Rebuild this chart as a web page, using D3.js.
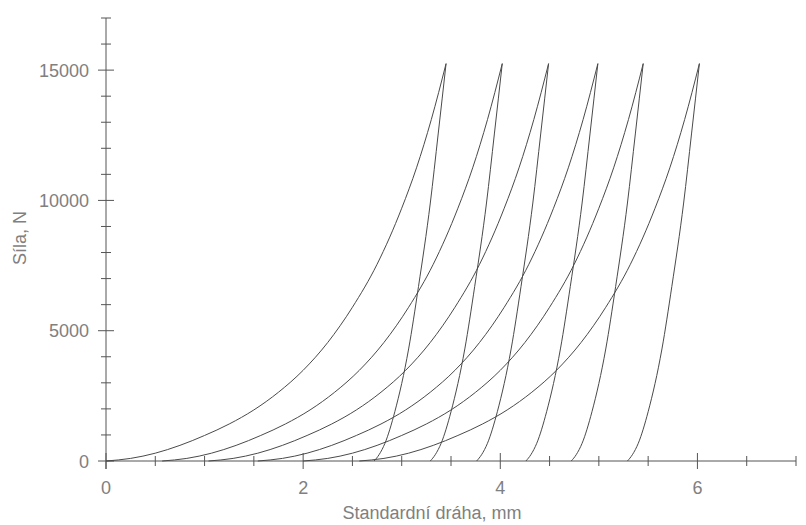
<!DOCTYPE html>
<html>
<head>
<meta charset="utf-8">
<script src="https://cdn.jsdelivr.net/npm/d3@7"></script>
<style>
  body { margin: 0; background: #fff; }
  svg { display: block; font-family: "Liberation Sans", Arial, sans-serif; }
</style>
</head>
<body>
<script>
// loading branches [displacement mm, force N]
const load1 = [[0,0],[0.25,100],[0.5,300],[0.75,600],[1.0,980],[1.25,1420],[1.5,1960],[1.75,2640],[2.0,3480],[2.25,4550],[2.5,5900],[2.75,7550],[3.0,9700],[3.15,11250],[3.3,13100],[3.45,15250]];
const load2 = [[0.57,0],[0.82,100],[1.07,300],[1.32,600],[1.57,980],[1.82,1420],[2.07,1960],[2.32,2640],[2.57,3480],[2.82,4550],[3.07,5900],[3.32,7550],[3.57,9700],[3.72,11250],[3.87,13100],[4.02,15250]];
const load3 = [[1.04,0],[1.29,100],[1.54,300],[1.79,600],[2.04,980],[2.29,1420],[2.54,1960],[2.79,2640],[3.04,3480],[3.29,4550],[3.54,5900],[3.79,7550],[4.04,9700],[4.19,11250],[4.34,13100],[4.49,15250]];
const load4 = [[1.54,0],[1.79,100],[2.04,300],[2.29,600],[2.54,980],[2.79,1420],[3.04,1960],[3.29,2640],[3.54,3480],[3.79,4550],[4.04,5900],[4.29,7550],[4.54,9700],[4.69,11250],[4.84,13100],[4.99,15250]];
const load5 = [[2.00,0],[2.25,100],[2.50,300],[2.75,600],[3.00,980],[3.25,1420],[3.50,1960],[3.75,2640],[4.00,3480],[4.25,4550],[4.50,5900],[4.75,7550],[5.00,9700],[5.15,11250],[5.30,13100],[5.45,15250]];
const load6 = [[2.57,0],[2.82,100],[3.07,300],[3.32,600],[3.57,980],[3.82,1420],[4.07,1960],[4.32,2640],[4.57,3480],[4.82,4550],[5.07,5900],[5.32,7550],[5.57,9700],[5.72,11250],[5.87,13100],[6.02,15250]];

// unloading branches, from the peak down
const unload1 = [[3.45,15250],[3.37,12550],[3.29,9900],[3.17,6690],[3.07,4300],[2.93,1890],[2.83,680],[2.77,240],[2.72,0]];
const unload2 = [[4.02,15250],[3.94,12550],[3.86,9900],[3.74,6690],[3.64,4300],[3.50,1890],[3.40,680],[3.34,240],[3.29,0]];
const unload3 = [[4.49,15250],[4.41,12550],[4.33,9900],[4.21,6690],[4.11,4300],[3.97,1890],[3.87,680],[3.81,240],[3.76,0]];
const unload4 = [[4.99,15250],[4.91,12550],[4.83,9900],[4.71,6690],[4.61,4300],[4.47,1890],[4.37,680],[4.31,240],[4.26,0]];
const unload5 = [[5.45,15250],[5.37,12550],[5.29,9900],[5.17,6690],[5.07,4300],[4.93,1890],[4.83,680],[4.77,240],[4.72,0]];
const unload6 = [[6.02,15250],[5.94,12550],[5.86,9900],[5.74,6690],[5.64,4300],[5.50,1890],[5.40,680],[5.34,240],[5.29,0]];

const branches = [load1, unload1, load2, unload2, load3, unload3, load4, unload4, load5, unload5, load6, unload6];

const xTicks = [0, 2, 4, 6];
const yTicks = [0, 5000, 10000, 15000];

const w = 806;
const h = 525;
const axisColor = '#555';
const textColor = '#808080';

const x = d3.scaleLinear().domain([0, 7]).range([106, 796]);
const y = d3.scaleLinear().domain([0, 17000]).range([461, 18]);

const svg = d3.select('body').append('svg')
	.attr('width', w)
	.attr('height', h);

// x axis
const xAxis = svg.append('g').attr('stroke', axisColor).attr('stroke-width', 1);
xAxis.append('line')
	.attr('x1', x(0)).attr('x2', x(7))
	.attr('y1', y(0)).attr('y2', y(0));
xAxis.selectAll('.tick')
	.data(d3.range(0, 7.01, 0.5))
	.enter().append('line')
	.attr('x1', d => x(d)).attr('x2', d => x(d))
	.attr('y1', d => y(0) - (d % 2 === 0 ? 8 : 5))
	.attr('y2', d => y(0) + (d % 2 === 0 ? 8 : 5));

svg.append('g')
	.selectAll('text')
	.data(xTicks)
	.enter().append('text')
	.attr('x', d => x(d))
	.attr('y', 494)
	.attr('text-anchor', 'middle')
	.attr('font-size', 18)
	.attr('fill', textColor)
	.text(d => d);

// y axis
const yAxis = svg.append('g').attr('stroke', axisColor).attr('stroke-width', 1);
yAxis.append('line')
	.attr('x1', x(0)).attr('x2', x(0))
	.attr('y1', y(17000)).attr('y2', y(0) + 8);
yAxis.selectAll('.tick')
	.data(d3.range(0, 17001, 1000))
	.enter().append('line')
	.attr('y1', d => y(d)).attr('y2', d => y(d))
	.attr('x1', d => x(0) - (d % 5000 === 0 ? 8 : 5))
	.attr('x2', d => x(0) + (d % 5000 === 0 ? 8 : 5));

svg.append('g')
	.selectAll('text')
	.data(yTicks)
	.enter().append('text')
	.attr('x', 89)
	.attr('y', d => y(d) + 6.5)
	.attr('text-anchor', 'end')
	.attr('font-size', 18)
	.attr('fill', textColor)
	.text(d => d);

// axis titles
svg.append('text')
	.attr('x', 432)
	.attr('y', 519)
	.attr('text-anchor', 'middle')
	.attr('font-size', 18)
	.attr('fill', textColor)
	.text('Standardní dráha, mm');

svg.append('text')
	.attr('transform', 'translate(26,238) rotate(-90)')
	.attr('text-anchor', 'middle')
	.attr('font-size', 18)
	.attr('fill', textColor)
	.text('Síla, N');

// curves
const line = d3.line()
	.x(d => x(d[0]))
	.y(d => y(d[1]))
	.curve(d3.curveMonotoneX);

svg.append('g')
	.selectAll('path')
	.data(branches)
	.enter().append('path')
	.attr('d', d => line(d.slice().sort((a, b) => a[0] - b[0])))
	.attr('fill', 'none')
	.attr('stroke', '#4a4a4a')
	.attr('stroke-width', 1);
</script>
</body>
</html>
